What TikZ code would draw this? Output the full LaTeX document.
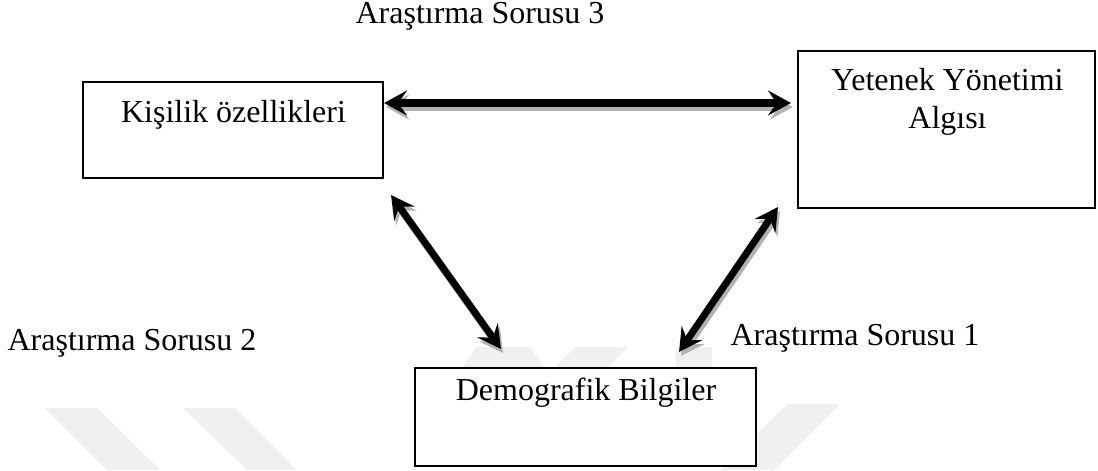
\documentclass[tikz,border=0pt]{standalone}
\usepackage{fontspec}
\setmainfont{Liberation Serif}
\usetikzlibrary{arrows.meta, positioning, calc}

\begin{document}
\begin{tikzpicture}[
    box/.style={draw, fill=white, line width=0.6pt, inner sep=0pt},
    txt/.style={font=\fontsize{9.1}{10.8}\selectfont, inner sep=0pt,
                anchor=base, align=center},
    dblarrow/.style={{Stealth[length=0.23cm, width=0.25cm, inset=0.09cm]}-{Stealth[length=0.23cm, width=0.25cm, inset=0.09cm]},
                     line width=2pt},
    shadowarr/.style={dblarrow, black!30},
    wmark/.style={fill=black!6, draw=none}
  ]
  \useasboundingbox (0,0) rectangle (10.98,4.70);

  % Watermark
  \fill[wmark] (0.45,0.62) -- (0.97,0.62) -- (1.60,0) -- (1.07,0) -- cycle;
  \fill[wmark] (1.83,0.62) -- (2.35,0.62) -- (2.97,0) -- (2.47,0) -- cycle;
  \fill[wmark] (7.87,0.66) -- (8.40,0.66) -- (7.74,0) -- (7.21,0) -- cycle;
  \fill[wmark] (4.76,1.23) -- (5.30,1.23) -- (5.45,1.02) -- (4.62,1.02) -- cycle;
  \fill[wmark] (5.75,1.23) -- (6.28,1.23) -- (6.07,1.02) -- (5.54,1.02) -- cycle;
  \fill[wmark] (6.76,1.23) -- (7.12,1.23) -- (7.12,1.02) -- (6.76,1.02) -- cycle;

  % Boxes
  \node[box, minimum width=3.00cm, minimum height=0.96cm] (kisilik) at (2.33, 3.40) {};
  \node[box, minimum width=2.97cm, minimum height=1.57cm] (yetenek) at (9.465, 3.405) {};
  \node[box, minimum width=3.41cm, minimum height=0.98cm] (demog) at (5.855, 0.53) {};

  % Box texts
  \node[txt] (kisilikT) at (2.335, 3.48) {Kişilik özellikleri};
  \node[txt] (yetenekT) at (9.475, 3.80) {Yetenek Yönetimi};
  \node[txt] (yetenekT2) at (9.475, 3.42) {Algısı};
  \node[txt] (demogT) at (5.86, 0.70) {Demografik Bilgiler};

  % Question labels
  \node[txt] (soru3) at (4.80, 4.46) {Araştırma Sorusu 3};
  \node[txt] (soru2) at (1.32, 1.20) {Araştırma Sorusu 2};
  \node[txt] (soru1) at (8.55, 1.25) {Araştırma Sorusu 1};

  % Arrow ends
  \coordinate (k-e) at ([yshift=0.27cm]kisilik.east);
  \coordinate (y-w) at ([xshift=-0.06cm]k-e -| yetenek.west);
  \coordinate (k-se) at ([shift={(0.07,-0.16)}]kisilik.south east);
  \coordinate (d-nl) at ([shift={(0.87,0.18)}]demog.north west);
  \coordinate (y-sw) at ([shift={(-0.19,0.02)}]yetenek.south west);
  \coordinate (d-nr) at ([shift={(-0.78,0.15)}]demog.north east);

  % Arrows
  \foreach \a/\b in {k-e/y-w, k-se/d-nl, y-sw/d-nr} {
    \draw[shadowarr] ([shift={(0.02,-0.04)}]\a) -- ([shift={(0.02,-0.04)}]\b);
    \draw[dblarrow] (\a) -- (\b);
  }
\end{tikzpicture}
\end{document}
